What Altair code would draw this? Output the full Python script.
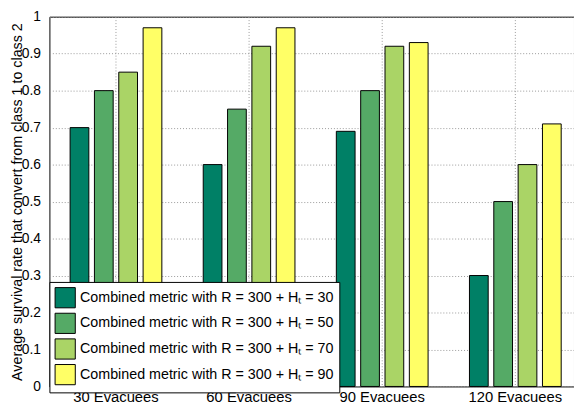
import altair as alt
import pandas as pd

categories = ["30 Evacuees", "60 Evacuees", "90 Evacuees", "120 Evacuees"]
series = [
    "Combined metric with R = 300 + Hₜ = 30",
    "Combined metric with R = 300 + Hₜ = 50",
    "Combined metric with R = 300 + Hₜ = 70",
    "Combined metric with R = 300 + Hₜ = 90",
]
values_h30 = [0.70, 0.60, 0.69, 0.30]
values_h50 = [0.80, 0.75, 0.80, 0.50]
values_h70 = [0.85, 0.92, 0.92, 0.60]
values_h90 = [0.97, 0.97, 0.93, 0.71]
colors = ["#008066", "#55AA66", "#AAD466", "#FFFF66"]
y_ticks = [0, 0.1, 0.2, 0.3, 0.4, 0.5, 0.6, 0.7, 0.8, 0.9, 1]

rows = []
for s, vals in zip(series, [values_h30, values_h50, values_h70, values_h90]):
    for c, v in zip(categories, vals):
        rows.append({"category": c, "series": s, "value": v})
df = pd.DataFrame(rows)

FONT = "Liberation Sans"

chart = (
    alt.Chart(df)
    .mark_bar(stroke="black", strokeWidth=1)
    .encode(
        x=alt.X(
            "category:N",
            sort=categories,
            scale=alt.Scale(range=[0, 540], paddingInner=0, paddingOuter=0),
            axis=alt.Axis(
                title=None,
                labelAngle=0,
                labelFontSize=15,
                labelFont=FONT,
                labelColor="black",
                labelPadding=3,
                ticks=False,
                domain=False,
                grid=True,
                gridDash=[1, 2],
                gridColor="#999999",
                bandPosition=0.5,
            ),
        ),
        xOffset=alt.XOffset(
            "series:N",
            sort=series,
            scale=alt.Scale(paddingInner=0.23, paddingOuter=0.85),
        ),
        y=alt.Y(
            "value:Q",
            scale=alt.Scale(domain=[0, 1], nice=False),
            axis=alt.Axis(
                values=y_ticks,
                format="~g",
                title="Average survival rate that convert from class 1 to class 2",
                titleFont=FONT,
                titleFontSize=14.5,
                titleFontWeight="normal",
                titleColor="black",
                titleX=-32,
                titleY=187.5,
                titleAngle=270,
                titleAlign="center",
                titleBaseline="middle",
                labelFontSize=14,
                labelFont=FONT,
                labelColor="black",
                labelPadding=9,
                ticks=False,
                domain=False,
                grid=True,
                gridDash=[1, 2],
                gridColor="#999999",
            ),
        ),
        color=alt.Color(
            "series:N",
            sort=series,
            scale=alt.Scale(domain=series, range=colors),
            legend=alt.Legend(
                title=None,
                orient="none",
                legendX=0,
                legendY=269,
                fillColor="white",
                strokeColor="black",
                padding=5,
                symbolType="square",
                symbolSize=420,
                symbolStrokeColor="black",
                symbolStrokeWidth=1,
                symbolOpacity=1,
                labelFont=FONT,
                labelFontSize=14.5,
                labelColor="black",
                labelOffset=4,
                labelLimit=400,
                labelExpr="datum.label + '\u00a0\u00a0'",
                rowPadding=0,
                zindex=5,
            ),
        ),
    )
    .properties(
        width=532,
        height=375,
        autosize=alt.AutoSizeParams(type="none"),
        padding={"left": 42, "top": 6, "right": 0, "bottom": 16},
    )
    .configure_view(stroke="black", strokeWidth=1)
)

chart.save("out.html", embed_options={"renderer": "svg", "actions": False})
